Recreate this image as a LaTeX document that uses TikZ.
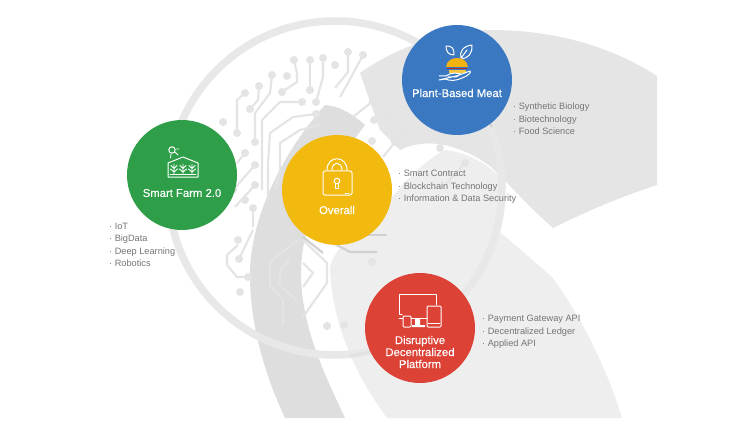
\documentclass[tikz,border=0pt]{standalone}
\usepackage{fontspec}
\setmainfont{Liberation Sans}
\newfontfamily\lblfont[FakeBold=0.25]{Liberation Sans}
\definecolor{cgreen}{HTML}{2E9F48}
\definecolor{cyellow}{HTML}{F2B90F}
\definecolor{cblue}{HTML}{3B78C2}
\definecolor{cred}{HTML}{DC4235}
\definecolor{bandA}{HTML}{DEDEDE}
\definecolor{bandB}{HTML}{EEEEEE}
\definecolor{bandC}{HTML}{E5E5E5}
\definecolor{ringc}{HTML}{E8E8E8}
\definecolor{tracec}{HTML}{E4E4E4}
\definecolor{listc}{HTML}{757575}
\tikzset{
  disc/.style={circle,minimum size=110pt,inner sep=0pt,draw=none},
  lbl/.style={text=white,font=\lblfont\fontsize{11.3}{12}\selectfont,align=center,inner sep=0pt},
  lst/.style={text=listc,font=\fontsize{9.2}{12.3}\selectfont,align=left,anchor=west,inner sep=0pt},
  trace/.style={draw=tracec,line width=2.1pt,line join=round},
  tracein/.style={draw=black!6,line width=1.8pt,line join=round,opacity=.35},
  stub/.style={draw=black!18,line width=2.2pt},
  ico/.style={draw=white,line width=1pt,line join=round,line cap=round},
}
\newcommand{\pads}[1]{\foreach \p in {#1}{\fill[tracec] \p circle (4pt);}}
\begin{document}
\begin{tikzpicture}[x=1pt,y=-1pt]
\useasboundingbox (0,0) rectangle (739,433);
\fill[white] (0,0) rectangle (739,433);
% upper band
\fill[bandC] (360,73) .. controls (395,48) and (440,32) .. (490,30)
  .. controls (565,30) and (620,52) .. (657,76) -- (657,185)
  .. controls (620,197) and (585,212) .. (553,228)
  .. controls (530,208) and (510,185) .. (490,166)
  .. controls (465,148) and (430,135) .. (400,150)
  -- (380,130) -- cycle;
% lower light band
\fill[bandB] (368,222) .. controls (392,200) and (415,165) .. (445,150)
  .. controls (465,152) and (485,162) .. (500,177)
  -- (504,214) -- (500,232)
  -- (552,277) .. controls (578,312) and (606,365) .. (622,418)
  -- (387,418) .. controls (355,375) and (333,325) .. (330,270)
  .. controls (330,255) and (350,235) .. (368,222) -- cycle;
% darker band
\fill[bandA] (325,105) .. controls (285,150) and (250,215) .. (250,275)
  .. controls (250,325) and (265,375) .. (285,418) -- (345,418)
  .. controls (325,375) and (300,325) .. (301,270)
  .. controls (302,215) and (335,165) .. (365,125)
  .. controls (350,112) and (338,106) .. (325,105) -- cycle;
% ring
\draw[ringc,line width=7.5pt] (335,188) circle (167pt);
% circuit traces
\draw[trace] (245,93)--(237,100)--(237,133);
\draw[trace] (259,86)--(258,100)--(250,109);
\draw[trace] (272,75)--(270,93)--(255,113)--(255,142);
\draw[trace] (294,60)--(297,73)--(297,82)--(282,92);
\draw[trace] (310,60)--(310,90);
\draw[trace] (323,58)--(323,77)--(316,102);
\draw[trace] (348,52)--(348,72)--(335,88);
\draw[trace] (363,55)--(348,83)--(340,97);
\draw[trace] (302,102)--(280,102)--(262,120)--(262,190);
\draw[trace] (316,114)--(293,117)--(270,133)--(268,163)--(268,200);
\draw[trace] (320,125)--(300,130)--(280,143)--(280,170)--(275,190);
\draw[trace] (255,165)--(233,190);
\draw[trace] (255,185)--(235,207);
\draw[trace] (245,153)--(237,163);
\draw[trace] (253,208)--(253,227);
\draw[trace] (238,245)--(227,255)--(227,265)--(237,277)--(248,277);
\draw[trace] (253,230)--(239,259);
\draw[trace] (303,240)--(327,263)--(327,283)--(303,317);
\draw[trace] (303,263)--(313,273)--(303,287);
\draw[trace] (373,101)--(353,117);
\draw[trace] (403,108)--(403,130);
\draw[trace] (395,142)--(383,157);
\draw[trace] (440,148)--(440,130);
\draw[trace] (459,145)--(459,130);
\draw[trace] (465,163)--(445,185);
\pads{(245,93),(259,86),(250,109),(272,75),(237,133),(255,142),(294,60),(287,76),(282,92),(310,60),(310,90),(323,58),(335,65),(316,102),(348,52),(363,55),(302,102),(316,114),(223,122),(245,153),(255,165),(255,185),(245,200),(253,208),(233,190),(238,240),(239,259),(248,277),(240,292),(327,326),(344,325),(372,262),(373,101),(374,120),(388,115),(389,130),(403,108),(403,130),(372,141),(395,142),(440,148),(459,145),(465,163)}
% traces seen through the bands
\draw[tracein] (270,262)--(270,285)--(283,300)--(283,325);
\draw[tracein] (298,240)--(270,262);
\draw[tracein] (290,260)--(280,270)--(280,285)--(296,300);
\draw[tracein] (350,262)--(340,280)--(345,310);
\draw[tracein] (372,262)--(360,290);
% stubs below the yellow disc
\draw[stub] (303,237)--(323,253);
\draw[stub] (333,243)--(350,252)--(377,252);
\draw[stub] (367,235)--(387,235);
\draw[stub] (487,118)--(492,127);
\draw[stub,black!12] (350,356)--(370,352);
% discs
\node[disc,fill=cgreen] (farm) at (182,175) {};
\node[disc,fill=cyellow] (overall) at (337,190) {};
\node[disc,fill=cblue] (meat) at (457,80) {};
\node[disc,fill=cred] (dapp) at (420,328) {};
% labels
\node[lbl] (farmlbl) at (182,193) {Smart Farm 2.0};
\node[lbl] (overalllbl) at (337,210) {Overall};
\node[lbl] (meatlbl) at (457,93) {Plant-Based Meat};
\node[lbl] (dapplbl) at (420,352) {Disruptive\\Decentralized\\Platform};
% lists
\node[lst] (l1) at (109,245) {· IoT\\· BigData\\· Deep Learning\\· Robotics};
\node[lst] (l2) at (398,187) {· Smart Contract\\· Blockchain Technology\\· Information \& Data Security};
\node[lst] (l3) at (513,119) {· Synthetic Biology\\· Biotechnology\\· Food Science};
\node[lst] (l4) at (482,332) {· Payment Gateway API\\· Decentralized Ledger\\· Applied API};
% greenhouse icon
\draw[ico] (172,150) circle (3.2pt);
\draw[ico,line width=.8pt] (171,154)--(170.5,158) (175.5,152.5)--(178,155) (176.5,149)--(179,149);
\draw[ico] (168,177)--(168,163)--(183,157)--(198,163)--(198,177)--cycle;
\foreach \q in {174,183,192}{
  \draw[ico,line width=.9pt] (\q,174)--(\q,164) (\q,172)--(\q-3.5,169) (\q,172)--(\q+3.5,169) (\q,168.5)--(\q-3,165.5) (\q,168.5)--(\q+3,165.5);
}
\draw[ico,line width=.8pt] (170,174.5)--(196,174.5);
% lock icon
\draw[ico] (323,171) [rounded corners=2pt] -- (352,171) -- (352,195) -- (323,195) -- cycle;
\draw[ico] (327,170) .. controls (327,155) and (347,155) .. (347,170);
\draw[ico] (332,170) .. controls (332,161) and (342,161) .. (342,170);
\draw[ico] (337,181) circle (2.8pt);
\draw[ico] (335.8,184)--(335.8,188)--(338.2,188)--(338.2,184);
\draw[ico] (345,193)--(349,193);
% plant-based meat icon
\draw[ico] (446,46) .. controls (453,46) and (454,49) .. (454,55) .. controls (448,55) and (446,51) .. (446,46) -- cycle;
\draw[ico] (472,45) .. controls (473,52) and (468,60) .. (461,58) .. controls (459,52) and (463,46) .. (472,45) -- cycle (461,58)--(467,50);
\fill[cyellow!90!orange] (446,67) .. controls (447,55) and (467,55) .. (468,67) -- cycle;
\draw[cred!80!black,line width=1.4pt] (447,68.5)--(467,68.5);
\fill[cyellow!80!white] (449,70) rectangle (466,73);
\draw[ico] (439,76)--(446,76) .. controls (452,72) and (456,73) .. (461,74) (461,74) -- (456,77) -- (448,77) (458,75.5)--(470,71) .. controls (472,72) and (468,76) .. (462,78) .. controls (456,81) and (450,81) .. (445,79)--(439,80)--cycle;
% devices icon
\draw[ico] (402,314)--(399,314)--(399,294)--(436,294)--(436,305);
\draw[ico] (399,318)--(403,318) (411,318)--(427,318);
\draw[ico,rounded corners=1pt] (427,306) rectangle (441,327);
\draw[ico,rounded corners=1pt] (403,316) rectangle (411,327);
\fill[white] (415,318) rectangle (420,325) (412,325) rectangle (425,327);
\draw[ico,line width=.7pt] (428,323.5)--(440,323.5);
\end{tikzpicture}
\end{document}
